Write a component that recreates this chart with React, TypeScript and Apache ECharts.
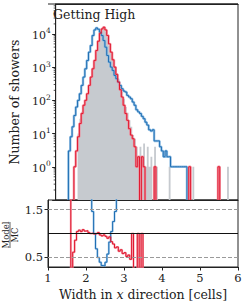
import React, { useEffect, useRef } from "react";
import * as echarts from "echarts";

// Histogram binning (cells)
const BIN_START = 1.35;
const BIN_WIDTH = 0.05;

// MC reference (grey filled)
const mcCounts = [
  0, 0, 0, 0, 0, 10, 28, 45, 71, 105,
  158, 282, 501, 891, 1660, 3162, 6310, 10471, 14454, 15136,
  12023, 7943, 4467, 2630, 1585, 1000, 661, 447, 302, 178,
  112, 63, 42, 25, 16, 9, 7, 4, 2, 4,
  2, 5, 1, 4, 1, 2, 0, 4, 1, 0,
  0, 0, 0, 0, 0, 1, 0, 0, 0, 0,
  0, 0, 0, 0, 0, 0, 0, 0, 1, 0,
  0, 0, 0, 0, 0, 0, 0, 0, 0, 0,
  0, 0, 0, 0, 0, 0, 0, 1, 0, 0,
  0, 0, 0,
];

// Model A (blue)
const blueCounts = [
  3, 8, 16, 35, 63, 100, 158, 282, 501, 891,
  1585, 2818, 4467, 8913, 13183, 15136, 13804, 11220, 8913, 6310,
  3981, 2239, 1413, 1000, 794, 562, 447, 355, 282, 224,
  191, 178, 141, 126, 112, 89, 71, 52, 45, 40,
  33, 28, 22, 18, 13, 12, 13, 6, 6, 6,
  4, 3, 2, 3, 2, 2, 1, 1, 1, 1,
  1, 1, 1, 1, 1, 0, 0, 0, 0, 0,
  0, 0, 0, 0, 0, 0, 0, 0, 0, 0,
  0, 0, 0, 0, 0, 0, 0, 0, 0, 0,
  0, 0, 0,
];

// Model B (red)
const redCounts = [
  0, 0, 0, 1, 3, 8, 20, 40, 71, 100,
  158, 282, 501, 891, 1585, 3162, 6026, 10471, 14125, 15849,
  13183, 8913, 5012, 2818, 1660, 1000, 603, 355, 209, 126,
  71, 40, 25, 14, 9, 7, 4, 1, 2, 0,
  2, 1, 0, 0, 0, 0, 0, 1, 0, 0,
  0, 0, 0, 0, 0, 0, 0, 0, 0, 0,
  0, 0, 0, 0, 0, 0, 1, 0, 0, 0,
  0, 0, 0, 0, 0, 0, 0, 0, 0, 0,
  0, 0, 1, 0, 0, 0, 0, 0, 0, 0,
  0, 0, 0,
];

// Model / MC ratios (same bins)
const redRatio: (number | null)[] = [
  null, null, null, null, 5, 0, 0.61, 0.86, 1.04, 1.07,
  1.04, 1.08, 1.05, 1.06, 1.02, 1.0, 1.01, 0.99, 1.0, 1.02,
  0.97, 0.95, 0.97, 0.94, 0.9, 0.93, 0.83, 0.78, 0.7, 0.72,
  0.63, 0.66, 0.58, 0.6, 0.52, 0.55, 0.46, 1.0, 0, 0,
  1.0, 0, 1.0, 0,
];
const blueRatio: (number | null)[] = [
  null, null, null, null, null, null, null, null, null, null,
  null, null, null, null, null, 5, 1.46, 1.0, 0.68, 0.5,
  0.4, 0.33, 0.32, 0.4, 0.57, 0.82, 1.04, 1.25, 1.46, 5,
];

const xTicks = [1, 2, 3, 4, 5, 6];
const ratioTickValues = [0.5, 1.5];
const minorLogTicks = [
  0.2, 0.3, 0.4, 0.5, 0.6, 0.7, 0.8, 0.9,
  2, 3, 4, 5, 6, 7, 8, 9,
  20, 30, 40, 50, 60, 70, 80, 90,
  200, 300, 400, 500, 600, 700, 800, 900,
  2000, 3000, 4000, 5000, 6000, 7000, 8000, 9000,
  20000, 30000, 40000, 50000, 60000, 70000,
];

const Y_MIN = 0.1;
const Y_MAX = 79433;
const FONT = "DejaVu Serif";
const INK = "#222";

const edge = (i: number) => Math.round((BIN_START + i * BIN_WIDTH) * 10000) / 10000;

function histSteps(counts: number[], floor: number) {
  const pts: any[] = [];
  let i = 0;
  while (i < counts.length) {
    if (!(counts[i] > 0)) { i++; continue; }
    pts.push([edge(i), floor]);
    while (i < counts.length && counts[i] > 0) {
      pts.push([edge(i), counts[i]], [edge(i + 1), counts[i]]);
      i++;
    }
    pts.push([edge(i), floor]);
    pts.push([edge(i), "-"]);
  }
  return pts;
}

function ratioSteps(r: (number | null)[]) {
  const pts: any[] = [];
  let open = false;
  for (let i = 0; i < r.length; i++) {
    const v = r[i];
    if (v == null) {
      if (open) { pts.push([edge(i), "-"]); open = false; }
      continue;
    }
    pts.push([edge(i), v], [edge(i + 1), v]);
    open = true;
  }
  return pts;
}

const BLUE = "#1f6fb4";
const BLUE_LIGHT = "#86b7e0";
const RED = "#e0182f";
const RED_LIGHT = "#f28a99";
const GREY = "#c6cacf";

function lineSeries(data: any[], color: string, width: number, gi: number, opacity = 1) {
  return {
    type: "line",
    xAxisIndex: gi,
    yAxisIndex: gi,
    data,
    symbol: "none",
    clip: true,
    connectNulls: false,
    lineStyle: { color, width, opacity },
    silent: true,
  };
}

const frameAxis = { show: true, lineStyle: { color: INK, width: 1 } };

export default function App() {
  const ref = useRef<HTMLDivElement>(null);
  useEffect(() => {
    if (!ref.current) return;
    const chart = echarts.init(ref.current, undefined, { renderer: "svg" });
    const mcSteps = histSteps(mcCounts, Y_MIN);
    const blueSteps = histSteps(blueCounts, Y_MIN);
    const redSteps = histSteps(redCounts, Y_MIN);
    const redR = ratioSteps(redRatio);
    const blueR = ratioSteps(blueRatio);

    const option: any = {
      animation: false,
      backgroundColor: "#fff",
      textStyle: { fontFamily: FONT },
      grid: [
        { left: 48, top: 4, width: 190, height: 196, show: true, borderColor: INK, borderWidth: 1, backgroundColor: "transparent" },
        { left: 48, top: 200, width: 190, height: 67, show: true, borderColor: INK, borderWidth: 1, backgroundColor: "transparent" },
      ],
      xAxis: [
        {
          type: "value", gridIndex: 0, min: 1, max: 6, interval: 1,
          axisLine: frameAxis,
          axisTick: { show: false }, axisLabel: { show: false }, splitLine: { show: false },
        },
        {
          type: "value", gridIndex: 1, min: 1, max: 6, interval: 1,
          axisLine: frameAxis,
          axisTick: { show: true, length: 3.5, lineStyle: { color: INK } },
          axisLabel: {
            show: true, fontFamily: FONT, fontSize: 11.5, color: INK, margin: 5,
            formatter: (v: number) => (xTicks.includes(v) ? String(v) : ""),
          },
          splitLine: { show: false },
          name: "Width in {i|x} direction [cells]",
          nameLocation: "middle",
          nameGap: 21,
          nameTextStyle: {
            fontFamily: FONT, fontSize: 12.5, color: INK,
            rich: { i: { fontFamily: FONT, fontSize: 12.5, fontStyle: "italic", color: INK } },
          },
        },
        {
          type: "value", gridIndex: 0, min: 1, max: 6, interval: 1, position: "top",
          axisLine: frameAxis,
          axisTick: { show: false }, axisLabel: { show: false }, splitLine: { show: false },
        },
      ],
      yAxis: [
        {
          type: "log", logBase: 10, gridIndex: 0, min: Y_MIN, max: Y_MAX,
          axisLine: frameAxis,
          axisTick: { show: true, length: 3.5, lineStyle: { color: INK } },
          splitLine: { show: false },
          axisLabel: {
            show: true, margin: 5, showMaxLabel: false,
            formatter: (v: number) => {
              const l = Math.log10(v);
              const r = Math.round(l);
              if (Math.abs(l - r) > 1e-6 || r < 0) return "";
              return `{b|10}{s|${r}}`;
            },
            rich: {
              b: { fontFamily: FONT, fontSize: 11, color: INK, lineHeight: 14, verticalAlign: "bottom" },
              s: { fontFamily: FONT, fontSize: 7.5, color: INK, lineHeight: 9, verticalAlign: "top" },
            },
          },
          name: "Number of showers",
          nameLocation: "middle",
          nameGap: 30,
          nameTextStyle: { fontFamily: FONT, fontSize: 12.5, color: INK },
        },
        {
          type: "value", gridIndex: 1, min: 0.3, max: 1.7,
          axisLine: frameAxis,
          axisTick: { show: true, length: 3.5, customValues: ratioTickValues, lineStyle: { color: INK } },
          axisLabel: {
            show: true, fontFamily: FONT, fontSize: 11.5, color: INK, margin: 5,
            customValues: ratioTickValues,
            formatter: (v: number) => v.toFixed(1),
          },
          splitLine: { show: false },
        },
      ],
      graphic: [
        {
          type: "line", z: 100,
          shape: { x1: 48, y1: 4, x2: 238, y2: 4 },
          style: { stroke: INK, lineWidth: 1 },
        },
        {
          type: "text", left: 53, top: 8,
          style: { text: "Getting High", fontFamily: FONT, fontSize: 12.5, fill: INK },
        },
        {
          type: "group", x: 10, y: 235, rotation: Math.PI / 2,
          children: [
            { type: "text", x: 0, y: -4.5, style: { text: "Model", fontFamily: FONT, fontSize: 8.5, fill: INK, align: "center", verticalAlign: "middle", textAlign: "center", textVerticalAlign: "middle" } },
            { type: "line", shape: { x1: -13, y1: 0, x2: 13, y2: 0 }, style: { stroke: INK, lineWidth: 0.7 } },
            { type: "text", x: 0, y: 4.5, style: { text: "MC", fontFamily: FONT, fontSize: 8.5, fill: INK, align: "center", verticalAlign: "middle", textAlign: "center", textVerticalAlign: "middle" } },
          ],
        },
      ],
      series: [
        {
          type: "custom", xAxisIndex: 0, yAxisIndex: 0, silent: true, clip: false,
          data: minorLogTicks.map((v) => [1, v]),
          renderItem: (_p: any, api: any) => {
            const pt = api.coord([1, api.value(1)]);
            return {
              type: "line",
              shape: { x1: pt[0], y1: pt[1], x2: pt[0] - 2, y2: pt[1] },
              style: { stroke: INK, lineWidth: 0.8 },
            };
          },
        },
        {
          type: "line", xAxisIndex: 0, yAxisIndex: 0, data: mcSteps, symbol: "none",
          clip: true, silent: true, lineStyle: { width: 0, color: GREY },
          areaStyle: { color: GREY, opacity: 1, origin: "start" },
        },
        lineSeries(blueSteps, BLUE_LIGHT, 2.4, 0, 0.85),
        lineSeries(redSteps, RED_LIGHT, 2.4, 0, 0.85),
        lineSeries(blueSteps, BLUE, 1, 0),
        lineSeries(redSteps, RED, 1, 0),
        {
          type: "line", xAxisIndex: 1, yAxisIndex: 1, data: [[1, 1]], symbol: "none", silent: true,
          lineStyle: { opacity: 0 },
          markLine: {
            silent: true, symbol: "none", label: { show: false },
            data: [
              { yAxis: 0.5, lineStyle: { color: "#9a9a9a", type: "dashed", width: 1 } },
              { yAxis: 1.5, lineStyle: { color: "#9a9a9a", type: "dashed", width: 1 } },
              { yAxis: 1.0, lineStyle: { color: "#111", type: "solid", width: 1 } },
            ],
          },
        },
        lineSeries(blueR, BLUE_LIGHT, 2, 1, 0.8),
        lineSeries(redR, RED_LIGHT, 2, 1, 0.8),
        lineSeries(blueR, BLUE, 1, 1),
        lineSeries(redR, RED, 1, 1),
      ],
    };
    chart.setOption(option);
    return () => chart.dispose();
  }, []);
  return (
    <div
      ref={ref}
      style={{ position: "absolute", left: 0, top: 0, width: 249, height: 307, background: "#fff" }}
    />
  );
}
